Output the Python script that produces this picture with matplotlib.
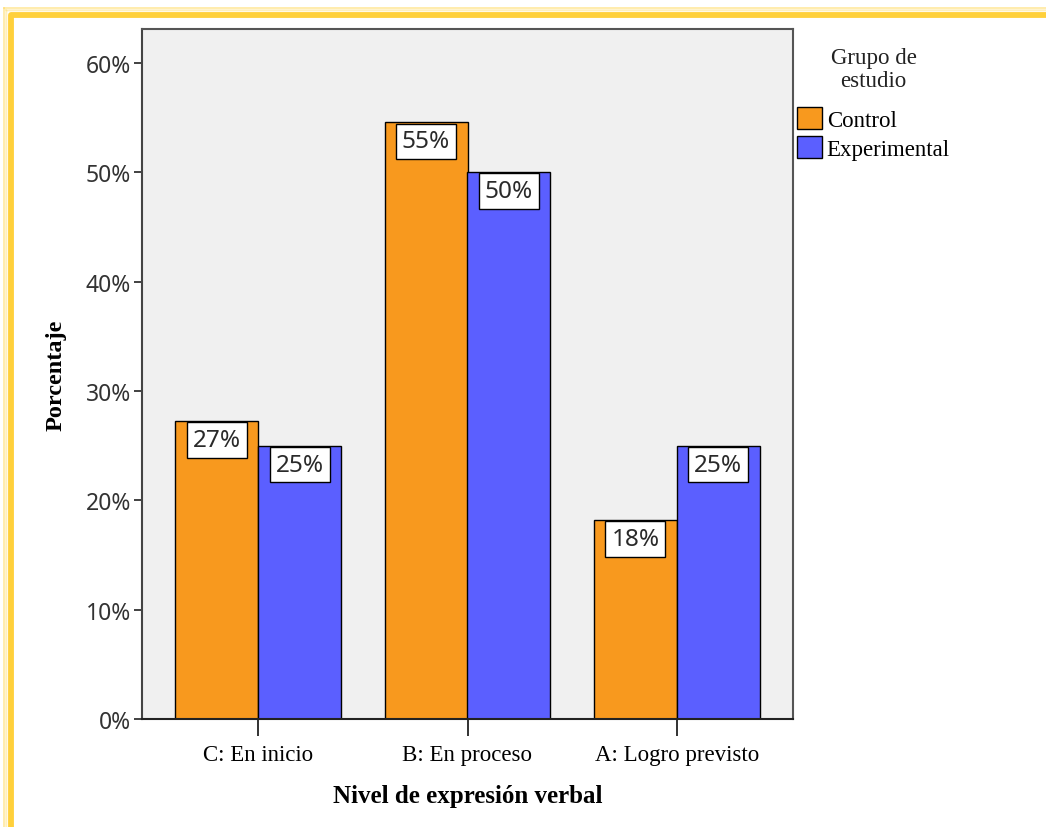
import matplotlib
matplotlib.use("Agg")
import matplotlib.pyplot as plt
from matplotlib.lines import Line2D
from matplotlib.patches import Patch
from matplotlib.transforms import IdentityTransform
import numpy as np

categories = ["C: En inicio", "B: En proceso", "A: Logro previsto"]
groups = ["Control", "Experimental"]
control = [27.27, 54.55, 18.18]
experimental = [25.0, 50.0, 25.0]
yticks = [0, 10, 20, 30, 40, 50, 60]

colors = ["#F8991E", "#5B5FFF"]
serif = "Liberation Serif"
sans = "Noto Sans"

W, H = 1046, 828
fig = plt.figure(figsize=(W / 100, H / 100), dpi=100)
fig.patch.set_facecolor("white")

ax = fig.add_axes([142 / W, 1 - 720 / H, 651 / W, 690 / H])
ax.set_facecolor("#F0F0F0")

x = np.arange(len(categories))
width = 0.396
series = [control, experimental]
for k, (vals, name) in enumerate(zip(series, groups)):
    pos = x + (k - 0.5) * width
    ax.bar(pos, vals, width, color=colors[k], edgecolor="black",
           linewidth=1.0, label=name, zorder=2)
    for px, v in zip(pos, vals):
        ax.annotate(f"{round(v)}%", (px, v), xytext=(0, -13.6),
                    textcoords="offset points", ha="center", va="center",
                    fontsize=17.5, family=sans, color="#2a2a2a", zorder=3,
                    bbox=dict(boxstyle="square,pad=0.24", fc="white",
                              ec="black", lw=1.0))

ax.set_xlim(-0.555, 2.555)
ax.set_ylim(0, 63.1)
ax.set_yticks(yticks)
ax.set_yticklabels([f"{t}%" for t in yticks], family=sans, fontsize=16.5,
                   color="#333333")
ax.set_xticks(x)
ax.set_xticklabels(categories, family=serif, fontsize=16.5, color="black")
ax.tick_params(axis="y", direction="out", length=6, width=1.3,
               color="#333333", pad=2)
ax.tick_params(axis="x", direction="out", length=12, width=1.3,
               color="#222222", pad=6)

for sp in ax.spines.values():
    sp.set_color("#555555")
    sp.set_linewidth(1.5)
ax.spines["left"].set_color("#444444")
ax.spines["bottom"].set_color("#222222")

ax.set_ylabel("Porcentaje", family=serif, fontsize=17.5, fontweight="bold",
              labelpad=14)
ax.set_xlabel("Nivel de expresión verbal", family=serif, fontsize=18,
              fontweight="bold", labelpad=14)

handles = [Patch(facecolor=c, edgecolor="black", linewidth=1.0) for c in colors]
leg = ax.legend(handles, groups, title="Grupo de\nestudio",
                loc="upper left", bbox_to_anchor=(797 / W, 1 - 48 / H),
                bbox_transform=fig.transFigure, borderaxespad=0, borderpad=0,
                frameon=False, handlelength=1.1, handleheight=1.1,
                handletextpad=0.2, labelspacing=0.22,
                prop={"family": serif, "size": 16.5})
title = leg.get_title()
title.set_fontfamily(serif)
title.set_fontsize(16.5)
title.set_color("#222222")
title.set_multialignment("center")
title.set_linespacing(1.1)
leg._legend_box.sep = 12  # extra gap between title and entries

# yellow frame round the picture, with a soft outer glow
idt = IdentityTransform()
glow = [(4, 0.15), (5.5, 0.3), (7, 0.5)]
for off, a in glow:
    fig.add_artist(Line2D([11 - off, 11 - off], [0, H - 16 + off], color="#FFD23F",
                          lw=1.2, alpha=a, transform=idt))
    fig.add_artist(Line2D([11 - off, W], [H - 16 + off, H - 16 + off],
                          color="#FFD23F", lw=1.2, alpha=a, transform=idt))
fig.add_artist(Line2D([11, 11, W], [0, H - 16, H - 16], color="#FFD03A",
                      lw=4.2, solid_joinstyle="round", transform=idt))

fig.savefig("out.png", dpi=100)
